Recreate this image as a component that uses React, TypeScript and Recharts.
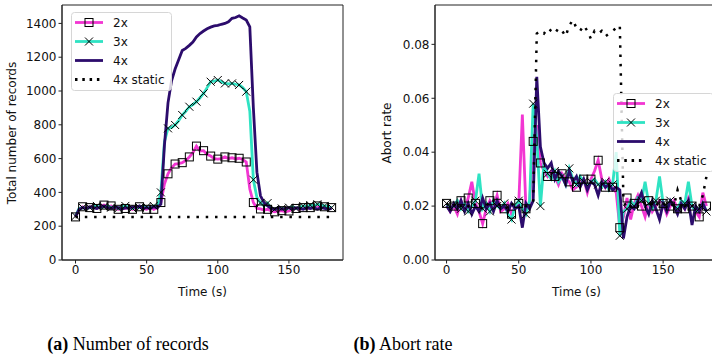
import React from "react";
import {
  LineChart,
  Line,
  XAxis,
  YAxis,
  ReferenceArea,
} from "recharts";

// time axis, seconds (one sample every 2.5 s)
const times = [
  0, 2.5, 5, 7.5, 10, 12.5, 15, 17.5, 20, 22.5, 25, 27.5, 30, 32.5, 35, 37.5, 40, 42.5, 45, 47.5,
  50, 52.5, 55, 57.5, 60, 62.5, 65, 67.5, 70, 72.5, 75, 77.5, 80, 82.5, 85, 87.5, 90, 92.5, 95, 97.5,
  100, 102.5, 105, 107.5, 110, 112.5, 115, 117.5, 120, 122.5, 125, 127.5, 130, 132.5, 135, 137.5,
  140, 142.5, 145, 147.5, 150, 152.5, 155, 157.5, 160, 162.5, 165, 167.5, 170, 172.5, 175, 177.5, 180,
];

// (a) total number of records
const records2x = [
  255, 300, 315, 305, 310, 320, 305, 315, 325, 315, 320, 305, 300, 310, 305, 315, 300, 310, 315, 305,
  300, 315, 300, 310, 340, 450, 510, 545, 568, 570, 576, 590, 610, 635, 674, 645, 647, 625, 615, 600,
  597, 600, 610, 600, 605, 598, 602, 595, 580, 420, 340, 305, 302, 295, 300, 290,
  285, 290, 292, 285, 290, 300, 305, 300, 310, 305, 310, 315, 320, 310, 315, 305, 310,
];
const records3x = [
  260, 305, 310, 305, 310, 315, 320, 310, 315, 320, 310, 315, 305, 315, 320, 310, 305, 315, 310, 320,
  315, 305, 320, 315, 400, 700, 779, 785, 799, 825, 858, 880, 907, 920, 937, 960, 986, 1020, 1055, 1058,
  1065, 1055, 1045, 1042, 1045, 1040, 1036, 1020, 996, 880, 475, 370, 338, 320, 337, 305,
  300, 310, 305, 300, 310, 315, 305, 310, 320, 315, 325, 320, 330, 325, 320, 315, 310,
];
const records4x = [
  255, 300, 310, 305, 315, 310, 305, 315, 320, 310, 305, 315, 310, 300, 310, 305, 315, 310, 320, 305,
  310, 305, 315, 310, 330, 680, 930, 1060, 1130, 1185, 1240, 1252, 1270, 1290, 1320, 1340, 1355, 1368, 1378, 1385,
  1388, 1395, 1400, 1410, 1430, 1435, 1445, 1432, 1420, 1380, 900, 520, 380, 340, 320, 305,
  300, 310, 300, 305, 310, 300, 310, 305, 300, 310, 305, 310, 300, 310, 305, 300, 305,
];
const staticTimes = [0, 180];
const records4xStatic = [255, 255];

// (b) abort rate
const abort2x = [
  0.021, 0.018, 0.02, 0.017, 0.022, 0.019, 0.023, 0.029, 0.021, 0.018, 0.0135, 0.019, 0.022, 0.02, 0.024, 0.018, 0.019, 0.021, 0.017, 0.02,
  0.021, 0.054, 0.019, 0.021, 0.044, 0.05, 0.036, 0.033, 0.031, 0.033, 0.031, 0.028, 0.032, 0.03, 0.029, 0.026, 0.027, 0.03, 0.03, 0.025,
  0.03, 0.033, 0.037, 0.03, 0.027, 0.03, 0.027, 0.025, 0.012, 0.016, 0.023, 0.015, 0.021, 0.024, 0.02, 0.016,
  0.022, 0.018, 0.02, 0.022, 0.021, 0.017, 0.02, 0.022, 0.019, 0.021, 0.019, 0.023, 0.02, 0.018, 0.016, 0.025, 0.02,
];
const abort3x = [
  0.021, 0.019, 0.02, 0.022, 0.019, 0.021, 0.018, 0.02, 0.022, 0.032, 0.019, 0.021, 0.018, 0.022, 0.02, 0.019, 0.021, 0.017, 0.015, 0.02,
  0.022, 0.019, 0.017, 0.022, 0.058, 0.045, 0.02, 0.036, 0.032, 0.03, 0.033, 0.029, 0.031, 0.028, 0.034, 0.03, 0.028, 0.031, 0.029, 0.027,
  0.029, 0.03, 0.028, 0.027, 0.029, 0.026, 0.028, 0.04, 0.009, 0.018, 0.019, 0.022, 0.02, 0.023, 0.022, 0.029,
  0.021, 0.019, 0.022, 0.031, 0.021, 0.019, 0.022, 0.02, 0.019, 0.022, 0.021, 0.029, 0.02, 0.018, 0.019, 0.021, 0.018,
];
const abort4x = [
  0.02, 0.018, 0.021, 0.019, 0.022, 0.018, 0.021, 0.017, 0.02, 0.018, 0.023, 0.019, 0.021, 0.018, 0.022, 0.019, 0.02, 0.018, 0.021, 0.019,
  0.02, 0.012, 0.021, 0.019, 0.022, 0.068, 0.042, 0.036, 0.034, 0.036, 0.03, 0.033, 0.031, 0.028, 0.033, 0.029, 0.031, 0.027, 0.03, 0.026,
  0.029, 0.028, 0.024, 0.029, 0.027, 0.028, 0.026, 0.027, 0.026, 0.008, 0.016, 0.02, 0.019, 0.022, 0.025, 0.02,
  0.017, 0.022, 0.019, 0.015, 0.021, 0.018, 0.022, 0.02, 0.017, 0.021, 0.019, 0.022, 0.013, 0.02, 0.018, 0.021, 0.018,
];
const abort4xStatic = [
  0.021, 0.02, 0.021, 0.019, 0.02, 0.021, 0.02, 0.019, 0.021, 0.02, 0.019, 0.021, 0.02, 0.022, 0.02, 0.021, 0.02, 0.019, 0.021, 0.02,
  0.019, 0.021, 0.02, 0.021, 0.022, 0.084, 0.085, 0.084, 0.086, 0.085, 0.084, 0.086, 0.085, 0.083, 0.087, 0.089, 0.086, 0.085, 0.087, 0.085,
  0.082, 0.085, 0.084, 0.085, 0.083, 0.084, 0.085, 0.086, 0.087, 0.022, 0.019, 0.02, 0.021, 0.02, 0.022, 0.021,
  0.02, 0.022, 0.021, 0.02, 0.021, 0.02, 0.021, 0.02, 0.026, 0.022, 0.02, 0.021, 0.02, 0.021, 0.02, 0.024, 0.031,
];

const recordTicks = [0, 200, 400, 600, 800, 1000, 1200, 1400];
const abortTicks = [0, 0.02, 0.04, 0.06, 0.08];
const timeTicks = [0, 50, 100, 150];

const PINK = "#f236d2";
const TEAL = "#2fe3c3";
const NAVY = "#2c0c6c";
const FONT = "'DejaVu Sans', sans-serif";
const LW = 2.8;

const recordRows = times.map((t, i) => ({ t, a: records2x[i], b: records3x[i], c: records4x[i] }));
const recordStatic = staticTimes.map((t, i) => ({ t, s: records4xStatic[i] }));
const abortRows = times.map((t, i) => ({
  t,
  a: abort2x[i],
  b: abort3x[i],
  c: abort4x[i],
  s: abort4xStatic[i],
}));

// markers every 5 s = every second sample
const squareDot = (p: any) => {
  const { cx, cy, index } = p;
  if (index % 2 !== 0 || cx == null || cy == null) return <g key={`sq${index}`} />;
  return (
    <rect key={`sq${index}`} x={cx - 4} y={cy - 4} width={8} height={8} fill="none" stroke="#000" strokeWidth={1} />
  );
};

const crossDot = (p: any) => {
  const { cx, cy, index } = p;
  if (index % 2 !== 0 || cx == null || cy == null) return <g key={`x${index}`} />;
  return (
    <path key={`x${index}`} d={`M${cx - 4},${cy - 4}L${cx + 4},${cy + 4}M${cx - 4},${cy + 4}L${cx + 4},${cy - 4}`} stroke="#000" strokeWidth={1} />
  );
};

function LegendBox({ left, top }: { left: number; top: number }) {
  const rows = [
    { label: "2x", color: PINK, marker: "sq" },
    { label: "3x", color: TEAL, marker: "x" },
    { label: "4x", color: NAVY, marker: "" },
    { label: "4x static", color: "#000", marker: "dot" },
  ];
  return (
    <svg width={101} height={79} style={{ position: "absolute", left, top, display: "block" }}>
      <rect x={0.5} y={0.5} width={100} height={78} rx={3} fill="#fff" fillOpacity={0.8} stroke="#d6d6d6" />
      {rows.map((r, i) => {
        const y = 10.5 + i * 19;
        return (
          <g key={r.label}>
            {r.marker === "dot" ? (
              <line x1={4} x2={32} y1={y} y2={y} stroke="#000" strokeWidth={LW} strokeDasharray="2.5 4.8" />
            ) : (
              <line x1={4} x2={32} y1={y} y2={y} stroke={r.color} strokeWidth={LW} />
            )}
            {r.marker === "sq" && <rect x={14} y={y - 4} width={8} height={8} fill="none" stroke="#000" />}
            {r.marker === "x" && (
              <path d={`M14,${y - 4}L22,${y + 4}M14,${y + 4}L22,${y - 4}`} stroke="#000" />
            )}
            <text x={42} y={y + 4.3} fontSize={12} fontFamily={FONT} fill="#111">
              {r.label}
            </text>
          </g>
        );
      })}
    </svg>
  );
}

const axisProps = {
  stroke: "#222",
  tickSize: 3.5,
  tick: { fill: "#111", fontSize: 12, fontFamily: FONT },
  tickLine: { stroke: "#222" },
};

function RecordsChart() {
  return (
    <LineChart width={360} height={300} data={recordRows} margin={{ top: 5, right: 17, left: 0, bottom: 0 }}>
      <XAxis
        dataKey="t"
        type="number"
        domain={[-9.5, 188]}
        ticks={timeTicks}
        allowDataOverflow
        height={40}
        {...axisProps}
      />
      <YAxis type="number" domain={[0, 1509]} ticks={recordTicks} allowDataOverflow width={62} {...axisProps} />
      <ReferenceArea x1={-9.5} x2={188} y1={0} y2={1509} fill="none" stroke="#222" strokeWidth={1} />
      <Line dataKey="a" stroke={PINK} strokeWidth={LW} dot={squareDot} isAnimationActive={false} />
      <Line dataKey="b" stroke={TEAL} strokeWidth={LW} dot={crossDot} isAnimationActive={false} />
      <Line dataKey="c" stroke={NAVY} strokeWidth={LW} dot={false} isAnimationActive={false} />
      <Line
        data={recordStatic}
        dataKey="s"
        stroke="#000"
        strokeWidth={2.5}
        strokeDasharray="2.5 6.8"
        dot={false}
        isAnimationActive={false}
      />
    </LineChart>
  );
}

function AbortChart() {
  return (
    <LineChart width={360} height={300} data={abortRows} margin={{ top: 5, right: 2, left: 0, bottom: 0 }}>
      <XAxis
        dataKey="t"
        type="number"
        domain={[-8, 188]}
        ticks={timeTicks}
        allowDataOverflow
        height={40}
        {...axisProps}
      />
      <YAxis
        type="number"
        domain={[0, 0.0946]}
        ticks={abortTicks}
        tickFormatter={(v: number) => v.toFixed(2)}
        allowDataOverflow
        width={75}
        {...axisProps}
      />
      <ReferenceArea x1={-8} x2={188} y1={0} y2={0.0946} fill="none" stroke="#222" strokeWidth={1} />
      <Line dataKey="a" stroke={PINK} strokeWidth={LW} dot={squareDot} isAnimationActive={false} />
      <Line dataKey="b" stroke={TEAL} strokeWidth={LW} dot={crossDot} isAnimationActive={false} />
      <Line dataKey="c" stroke={NAVY} strokeWidth={LW} dot={false} isAnimationActive={false} />
      <Line
        dataKey="s"
        stroke="#000"
        strokeWidth={2.5}
        strokeDasharray="2.5 6.8"
        dot={false}
        isAnimationActive={false}
      />
    </LineChart>
  );
}

const label = (x: number, y: number, rotate = false): React.CSSProperties => ({
  position: "absolute",
  left: x,
  top: y,
  transform: `translate(-50%, -50%)${rotate ? " rotate(-90deg)" : ""}`,
  whiteSpace: "nowrap",
  fontFamily: FONT,
  fontSize: 12,
  color: "#111",
});

const caption = (x: number): React.CSSProperties => ({
  position: "absolute",
  left: x,
  top: 344,
  transform: "translate(-50%, -50%)",
  whiteSpace: "nowrap",
  fontFamily: "'Liberation Serif', serif",
  fontSize: 18,
  color: "#000",
});

export default function App() {
  return (
    <div style={{ position: "absolute", left: 0, top: 0, width: 712, height: 357, overflow: "hidden", background: "#fff" }}>
      <div style={{ position: "absolute", left: 0, top: 0 }}>
        <RecordsChart />
      </div>
      <div style={{ position: "absolute", left: 360, top: 0 }}>
        <AbortChart />
      </div>
      <LegendBox left={71} top={12} />
      <LegendBox left={613} top={93} />
      <div style={label(11.5, 132.5, true)}>Total number of records</div>
      <div style={label(387, 132.5, true)}>Abort rate</div>
      <div style={label(202.5, 291.5)}>Time (s)</div>
      <div style={label(576.5, 291.5)}>Time (s)</div>
      <div style={caption(128)}>
        <b>(a)</b> Number of records
      </div>
      <div style={caption(403)}>
        <b>(b)</b> Abort rate
      </div>
    </div>
  );
}
